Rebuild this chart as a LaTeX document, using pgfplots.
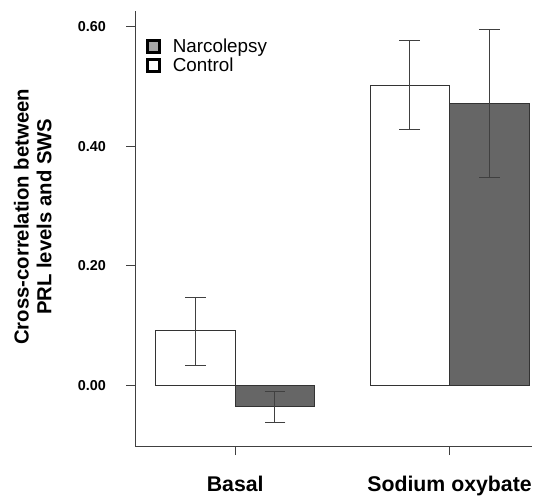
\documentclass[border=0pt]{standalone}
\usepackage{fontspec}
\setmainfont{Liberation Sans}
\usepackage{pgfplots}
\pgfplotsset{compat=1.18}
\definecolor{narc}{HTML}{666666}
\definecolor{edge}{HTML}{333333}
\begin{document}
\begin{tikzpicture}
\begin{axis}[
  scale only axis, width=399bp, height=438bp,
  xmin=-0.467, xmax=1.383, ymin=-0.101, ymax=0.626,
  axis x line*=bottom, axis y line*=left,
  axis line style={line width=1pt, black!75, -},
  xtick={0,1}, xticklabels={Basal, Sodium oxybate},
  ytick={0,0.2,0.4,0.6},
  yticklabel style={/pgf/number format/fixed, /pgf/number format/fixed zerofill, /pgf/number format/precision=2},
  /pgf/number format/assume math mode=true,
  tick style={line width=1pt, black!75},
  tick align=outside, major tick length=9bp,
  x tick label style={font=\fontsize{21.5}{24}\selectfont\bfseries, anchor=base, yshift=-37bp},
  y tick label style={font=\fontsize{14.5}{17}\selectfont\bfseries, xshift=-17bp},
  ylabel={Cross-correlation between\\PRL levels and SWS},
  every axis y label/.style={at={(axis description cs:-0.258,0.527)}, anchor=center, rotate=90,
     align=center, font=\fontsize{20.5}{23}\selectfont\bfseries},
  ybar, bar width=0.371, bar shift=0pt,
  legend style={at={(0.027,0.94)}, anchor=north west, draw=none, fill=none,
    font=\fontsize{19}{20.5}\selectfont, row sep=0pt, inner sep=0pt,
    /tikz/every odd column/.append style={column sep=10bp}},
  legend cell align=left,
  error bars/y dir=both, error bars/y explicit,
  error bars/error bar style={line width=1pt, black!75},
  error bars/error mark options={rotate=90, mark size=10.5bp, line width=1pt, black!75},
]
\addlegendimage{legend image code/.code={\draw[line width=3bp, fill=gray!70] (0bp,-6bp) rectangle (12bp,6bp);}}
\addlegendentry{Narcolepsy}
\addlegendimage{legend image code/.code={\draw[line width=3bp, fill=white] (0bp,-6bp) rectangle (12bp,6bp);}}
\addlegendentry{Control}
% Control
\addplot[fill=white, draw=edge, line width=0.9pt] coordinates {
  (-0.1855,0.0925) += (0,0.0555) -= (0,0.0585)
  (0.8145,0.502) += (0,0.075) -= (0,0.074)
};
% Narcolepsy
\addplot[fill=narc, draw=edge, line width=0.9pt] coordinates {
  (0.1855,-0.035) += (0,0.026) -= (0,0.026)
  (1.1855,0.471) += (0,0.124) -= (0,0.124)
};
\end{axis}
\path (current axis.south west) ++(-136bp,-41bp) rectangle ++(535bp,490bp);
\end{tikzpicture}
\end{document}
